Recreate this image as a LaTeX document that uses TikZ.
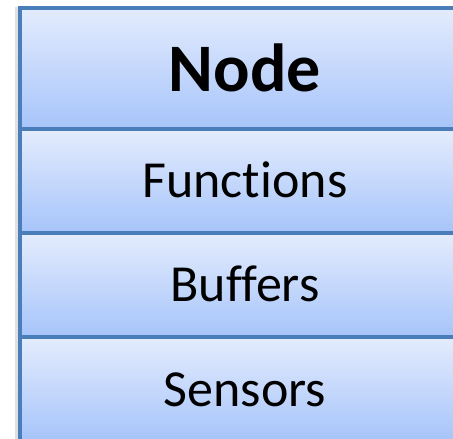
\documentclass[tikz,border=0pt]{standalone}
\usepackage{fontspec}
\setmainfont[Ligatures=NoCommon,RawFeature=-liga]{Carlito}
\definecolor{boxtop}{HTML}{E4ECFD}
\definecolor{boxbot}{HTML}{A6C4FA}
\definecolor{boxline}{HTML}{4A7EBB}
\begin{document}
\begin{tikzpicture}[x=1pt,y=1pt,
  layer/.style={rectangle, draw=boxline, line width=3.2pt, top color=boxtop,
    bottom color=boxbot, minimum width=450pt, inner sep=0pt, outer sep=0pt},
  label text/.style={inner sep=0pt, anchor=base, text=black},
  title text/.style={label text, font=\fontsize{68}{68}\selectfont\bfseries},
  item text/.style={label text, font=\fontsize{52}{52}\selectfont}]
\useasboundingbox (0,0) rectangle (453,439);
\clip (0,0) rectangle (453,439);
% soft shadow along the left edge
\fill[black!12] (15,-5) rectangle (18.5,432);
% stacked layers (y measured from the top edge)
\node[layer, minimum height=121pt, anchor=north west] (head) at (20,439-8) {};
\node[layer, minimum height=104pt, anchor=north west] (fun) at (20,439-129) {};
\node[layer, minimum height=104pt, anchor=north west] (buf) at (20,439-233) {};
\node[layer, minimum height=104pt, anchor=north west] (sen) at (20,439-337) {};
% labels
\node[title text] (tnode) at (245,439-92) {Node};
\node[item text] (tfun) at (245,439-198) {Functions};
\node[item text] (tbuf) at (245,439-302) {Buffers};
\node[item text] (tsen) at (245,439-407) {Sensors};
\end{tikzpicture}
\end{document}
